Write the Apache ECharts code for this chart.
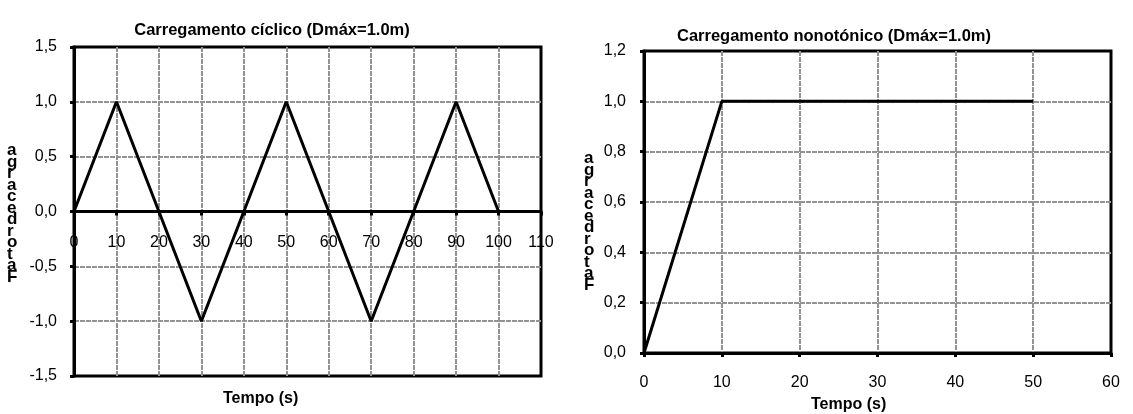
<!DOCTYPE html>
<html>
<head>
<meta charset="utf-8">
<script src="https://cdn.jsdelivr.net/npm/echarts@6/dist/echarts.min.js"></script>
<style>
  html, body { margin: 0; padding: 0; background: #fff; }
  #chart { width: 1133px; height: 414px; }
</style>
</head>
<body>
<div id="chart"></div>
<script>
// carregamento cíclico
var ciclicoTempo = [0, 10, 30, 50, 70, 90, 100];
var ciclicoFator = [0, 1, -1, 1, -1, 1, 0];
// carregamento monotónico
var monoTempo = [0, 10, 50];
var monoFator = [0, 1, 1];

var tituloCiclico = 'Carregamento cíclico (Dmáx=1.0m)';
var tituloMono = 'Carregamento nonotónico (Dmáx=1.0m)';
var nomeX = 'Tempo (s)';
var nomeY = 'Fator de carga';

var FONT = '"Liberation Sans", Arial, sans-serif';

// letras empilhadas de baixo para cima, como no original
var nomeYEmpilhado = nomeY.replace(/ /g, '').split('').reverse().join('\n');

function virgula(v) {
    return v.toFixed(1).replace('.', ',');
}

function pares(xs, ys) {
    return xs.map(function (x, i) { return [x, ys[i]]; });
}

var chart = echarts.init(document.getElementById('chart'));

var splitStyle = {
    show: true, showMinLine: false, showMaxLine: false,
    lineStyle: { color: '#939393', width: 2, type: [5, 1] }
};
var eixoLinha = { show: true, onZero: false, lineStyle: { color: '#000', width: 3 } };
var eixoTick = { show: true, length: 4, lineStyle: { color: '#000', width: 3 } };
var rotulo = { color: '#000', fontSize: 16, fontFamily: FONT };
var nomeYEstilo = {
    text: nomeYEmpilhado, fontSize: 17, fontWeight: 'bold', fontFamily: FONT,
    fill: '#000', lineHeight: 11.5, align: 'center'
};

chart.setOption({
    animation: false,
    title: [{
        text: tituloCiclico,
        left: 267, top: 17, textAlign: 'center',
        textStyle: { fontSize: 16.5, fontWeight: 'bold', fontFamily: FONT, color: '#000' }
    }, {
        text: tituloMono,
        left: 829, top: 23, textAlign: 'center',
        textStyle: { fontSize: 16.5, fontWeight: 'bold', fontFamily: FONT, color: '#000' }
    }],
    graphic: [{
        type: 'text', left: 223, top: 391,
        style: { text: nomeX, fontSize: 16, fontWeight: 'bold', fontFamily: FONT, fill: '#000' }
    }, {
        type: 'text', left: 811, top: 397,
        style: { text: nomeX, fontSize: 16, fontWeight: 'bold', fontFamily: FONT, fill: '#000' }
    }, {
        type: 'text', left: 7, top: 142, style: nomeYEstilo
    }, {
        type: 'text', left: 584, top: 150, style: nomeYEstilo
    }],
    grid: [{
        left: 74, right: 592, top: 47, height: 329,
        show: true, borderColor: '#000', borderWidth: 3
    }, {
        left: 644, right: 22, top: 51, height: 302,
        show: true, borderColor: '#000', borderWidth: 3
    }],
    xAxis: [{
        gridIndex: 0, type: 'value', min: 0, max: 110, interval: 10,
        offset: -164.5,
        axisLine: eixoLinha, axisTick: eixoTick, splitLine: splitStyle,
        axisLabel: Object.assign({ margin: 23, showMinLabel: true, showMaxLabel: true }, rotulo)
    }, {
        gridIndex: 1, type: 'value', min: 0, max: 60, interval: 10,
        axisLine: eixoLinha, axisTick: eixoTick, splitLine: splitStyle,
        axisLabel: Object.assign({ margin: 22 }, rotulo)
    }],
    yAxis: [{
        gridIndex: 0, type: 'value', min: -1.5, max: 1.5, interval: 0.5,
        axisLine: eixoLinha, axisTick: eixoTick, splitLine: splitStyle,
        axisLabel: Object.assign({ margin: 17, formatter: virgula }, rotulo)
    }, {
        gridIndex: 1, type: 'value', min: 0, max: 1.2, interval: 0.2,
        axisLine: eixoLinha, axisTick: eixoTick, splitLine: splitStyle,
        axisLabel: Object.assign({ margin: 18, formatter: virgula }, rotulo)
    }],
    series: [{
        type: 'line', xAxisIndex: 0, yAxisIndex: 0,
        data: pares(ciclicoTempo, ciclicoFator),
        symbol: 'none', lineStyle: { color: '#000', width: 3 }
    }, {
        type: 'line', xAxisIndex: 1, yAxisIndex: 1,
        data: pares(monoTempo, monoFator),
        symbol: 'none', lineStyle: { color: '#000', width: 3 }
    }]
});
</script>
</body>
</html>
